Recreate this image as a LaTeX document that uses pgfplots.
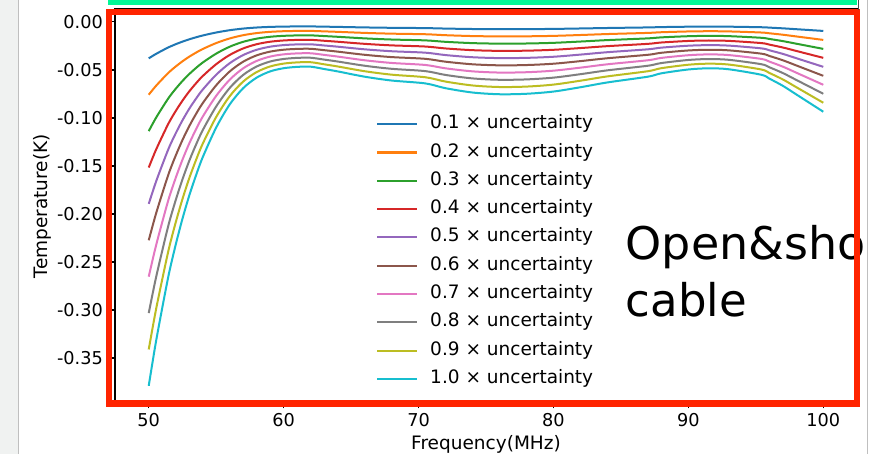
\documentclass[border=0pt]{standalone}
\usepackage{fontspec}
\setmainfont{DejaVu Sans}
\usepackage{pgfplots}
\usepackage{pgfplotstable}
\pgfplotsset{compat=1.18}
\definecolor{c1}{HTML}{1F77B4}
\definecolor{c2}{HTML}{FF7F0E}
\definecolor{c3}{HTML}{2CA02C}
\definecolor{c4}{HTML}{D62728}
\definecolor{c5}{HTML}{9467BD}
\definecolor{c6}{HTML}{8C564B}
\definecolor{c7}{HTML}{E377C2}
\definecolor{c8}{HTML}{7F7F7F}
\definecolor{c9}{HTML}{BCBD22}
\definecolor{c10}{HTML}{17BECF}
\definecolor{ovred}{RGB}{255,36,0}
\definecolor{ovgreen}{RGB}{0,248,150}
\definecolor{panelgray}{RGB}{240,242,241}
\pgfplotstableread{
x k01 k02 k03 k04 k05 k06 k07 k08 k09 k10
50 -0.0379 -0.0758 -0.1137 -0.1516 -0.1895 -0.2274 -0.2653 -0.3032 -0.3411 -0.379
50.5 -0.0336 -0.0672 -0.1008 -0.1344 -0.168 -0.2016 -0.2352 -0.2688 -0.3024 -0.336
51 -0.0298 -0.0596 -0.0894 -0.1192 -0.149 -0.1788 -0.2086 -0.2384 -0.2682 -0.298
51.5 -0.0262 -0.0524 -0.0786 -0.1048 -0.131 -0.1572 -0.1834 -0.2096 -0.2358 -0.262
52 -0.0232 -0.0464 -0.0696 -0.0928 -0.116 -0.1392 -0.1624 -0.1856 -0.2088 -0.232
52.5 -0.0205 -0.041 -0.0615 -0.082 -0.1025 -0.123 -0.1435 -0.164 -0.1845 -0.205
53 -0.0181 -0.0362 -0.0543 -0.0724 -0.0905 -0.1086 -0.1267 -0.1448 -0.1629 -0.181
53.5 -0.016 -0.032 -0.048 -0.064 -0.08 -0.096 -0.112 -0.128 -0.144 -0.16
54 -0.0141 -0.0282 -0.0423 -0.0564 -0.0705 -0.0846 -0.0987 -0.1128 -0.1269 -0.141
55 -0.011 -0.022 -0.033 -0.044 -0.055 -0.066 -0.077 -0.088 -0.099 -0.11
56 -0.0086 -0.0172 -0.0258 -0.0344 -0.043 -0.0516 -0.0602 -0.0688 -0.0774 -0.086
57 -0.0069 -0.0138 -0.0207 -0.0276 -0.0345 -0.0414 -0.0483 -0.0552 -0.0621 -0.069
58 -0.0058 -0.0116 -0.0174 -0.0232 -0.029 -0.0348 -0.0406 -0.0464 -0.0522 -0.058
59 -0.00515 -0.0103 -0.01545 -0.0206 -0.02575 -0.0309 -0.03605 -0.0412 -0.04635 -0.0515
60 -0.00482 -0.00964 -0.01446 -0.01928 -0.0241 -0.02892 -0.03374 -0.03856 -0.04338 -0.0482
61 -0.00468 -0.00936 -0.01404 -0.01872 -0.0234 -0.02808 -0.03276 -0.03744 -0.04212 -0.0468
62 -0.00466 -0.00932 -0.01398 -0.01864 -0.0233 -0.02796 -0.03262 -0.03728 -0.04194 -0.0466
63 -0.0049 -0.0098 -0.0147 -0.0196 -0.0245 -0.0294 -0.0343 -0.0392 -0.0441 -0.049
64 -0.00515 -0.0103 -0.01545 -0.0206 -0.02575 -0.0309 -0.03605 -0.0412 -0.04635 -0.0515
66 -0.0057 -0.0114 -0.0171 -0.0228 -0.0285 -0.0342 -0.0399 -0.0456 -0.0513 -0.057
68 -0.0061 -0.0122 -0.0183 -0.0244 -0.0305 -0.0366 -0.0427 -0.0488 -0.0549 -0.061
70.5 -0.0064 -0.0128 -0.0192 -0.0256 -0.032 -0.0384 -0.0448 -0.0512 -0.0576 -0.064
72 -0.0069 -0.0138 -0.0207 -0.0276 -0.0345 -0.0414 -0.0483 -0.0552 -0.0621 -0.069
74 -0.00735 -0.0147 -0.02205 -0.0294 -0.03675 -0.0441 -0.05145 -0.0588 -0.06615 -0.0735
76 -0.00753 -0.01506 -0.02259 -0.03012 -0.03765 -0.04518 -0.05271 -0.06024 -0.06777 -0.0753
78 -0.00748 -0.01496 -0.02244 -0.02992 -0.0374 -0.04488 -0.05236 -0.05984 -0.06732 -0.0748
80 -0.00725 -0.0145 -0.02175 -0.029 -0.03625 -0.0435 -0.05075 -0.058 -0.06525 -0.0725
82 -0.0068 -0.0136 -0.0204 -0.0272 -0.034 -0.0408 -0.0476 -0.0544 -0.0612 -0.068
84 -0.0063 -0.0126 -0.0189 -0.0252 -0.0315 -0.0378 -0.0441 -0.0504 -0.0567 -0.063
87 -0.0057 -0.0114 -0.0171 -0.0228 -0.0285 -0.0342 -0.0399 -0.0456 -0.0513 -0.057
88 -0.00535 -0.0107 -0.01605 -0.0214 -0.02675 -0.0321 -0.03745 -0.0428 -0.04815 -0.0535
90 -0.00495 -0.0099 -0.01485 -0.0198 -0.02475 -0.0297 -0.03465 -0.0396 -0.04455 -0.0495
91.5 -0.00483 -0.00966 -0.01449 -0.01932 -0.02415 -0.02898 -0.03381 -0.03864 -0.04347 -0.0483
93 -0.00493 -0.00986 -0.01479 -0.01972 -0.02465 -0.02958 -0.03451 -0.03944 -0.04437 -0.0493
95.4 -0.0055 -0.011 -0.0165 -0.022 -0.0275 -0.033 -0.0385 -0.044 -0.0495 -0.055
96 -0.0059 -0.0118 -0.0177 -0.0236 -0.0295 -0.0354 -0.0413 -0.0472 -0.0531 -0.059
97 -0.00665 -0.0133 -0.01995 -0.0266 -0.03325 -0.0399 -0.04655 -0.0532 -0.05985 -0.0665
98 -0.00755 -0.0151 -0.02265 -0.0302 -0.03775 -0.0453 -0.05285 -0.0604 -0.06795 -0.0755
99 -0.00845 -0.0169 -0.02535 -0.0338 -0.04225 -0.0507 -0.05915 -0.0676 -0.07605 -0.0845
100 -0.00935 -0.0187 -0.02805 -0.0374 -0.04675 -0.0561 -0.06545 -0.0748 -0.08415 -0.0935
}\datatab

\begin{document}
\begin{tikzpicture}
\useasboundingbox (0,0) rectangle (869bp,454bp);
\fill[white] (0,0) rectangle (869bp,454bp);
\clip (0,0) rectangle (869bp,454bp);
\fill[panelgray] (0,0) rectangle (18bp,454bp);
\draw[black!25, line width=1bp] (18bp,0) -- (18bp,454bp);
\begin{axis}[
  scale only axis,
  width=742bp, height=394.8bp,
  at={(115bp,50.4bp)}, anchor=south west,
  xmin=47.5, xmax=102.5,
  ymin=-0.3975, ymax=0.0137,
  xtick={50,60,70,80,90,100},
  xticklabels={50,60,70,80,90,100},
  ytick={0,-0.05,-0.1,-0.15,-0.2,-0.25,-0.3,-0.35},
  yticklabels={0.00,-0.05,-0.10,-0.15,-0.20,-0.25,-0.30,-0.35},
  tick align=outside,
  major tick length=4.9bp,
  tick style={line width=1.1bp, black},
  axis line style={line width=1.1bp},
  xtick pos=bottom, ytick pos=left,
  ticklabel style={font=\fontsize{17.7bp}{21bp}\selectfont, inner sep=0pt},
  xticklabel shift=4.9bp,
  yticklabel shift=7bp,
  xlabel={Frequency(MHz)},
  ylabel={Temperature(K)},
  label style={font=\fontsize{18.5bp}{22bp}\selectfont, inner sep=0pt},
  xlabel style={at={(axis description cs:0.5,-0.1045)}, anchor=center},
  ylabel style={at={(axis description cs:-0.0984,0.5)}, anchor=center, rotate=0},
  legend style={draw=none, fill=none, at={(axis description cs:0.3518,0.731)}, anchor=north west,
    font=\fontsize{18.5bp}{22bp}\selectfont, inner sep=0pt, row sep=10.3bp, column sep=12bp,
    nodes={inner sep=0pt, text height=13.5bp, text depth=4.5bp}},
  legend cell align=left,
  legend image code/.code={\draw[#1, line width=2bp] (0bp,0bp) -- (40bp,0bp);},
  every axis plot/.append style={line width=2bp, smooth, line join=round},
]
\addplot[c1] table[x=x,y=k01]{\datatab}; \addlegendentry{0.1 × uncertainty}
\addplot[c2] table[x=x,y=k02]{\datatab}; \addlegendentry{0.2 × uncertainty}
\addplot[c3] table[x=x,y=k03]{\datatab}; \addlegendentry{0.3 × uncertainty}
\addplot[c4] table[x=x,y=k04]{\datatab}; \addlegendentry{0.4 × uncertainty}
\addplot[c5] table[x=x,y=k05]{\datatab}; \addlegendentry{0.5 × uncertainty}
\addplot[c6] table[x=x,y=k06]{\datatab}; \addlegendentry{0.6 × uncertainty}
\addplot[c7] table[x=x,y=k07]{\datatab}; \addlegendentry{0.7 × uncertainty}
\addplot[c8] table[x=x,y=k08]{\datatab}; \addlegendentry{0.8 × uncertainty}
\addplot[c9] table[x=x,y=k09]{\datatab}; \addlegendentry{0.9 × uncertainty}
\addplot[c10] table[x=x,y=k10]{\datatab}; \addlegendentry{1.0 × uncertainty}
\end{axis}
\node[anchor=base west, inner sep=0pt, xscale=1.022, font=\fontsize{45bp}{54bp}\selectfont] at (625.5bp,194bp) {Open\&sho};
\node[anchor=base west, inner sep=0pt, font=\fontsize{45bp}{54bp}\selectfont] at (625.5bp,137bp) {cable};
\draw[ovred, line width=6.5bp] (109bp,50.7bp) rectangle (857bp,441.8bp);
\fill[ovgreen] (108bp,449bp) rectangle (857bp,455bp);
\draw[black!70, line width=1bp] (858bp,444bp) -- (858bp,455bp);
\draw[black!25, line width=1bp] (867bp,0) -- (867bp,454bp);
\end{tikzpicture}
\end{document}
